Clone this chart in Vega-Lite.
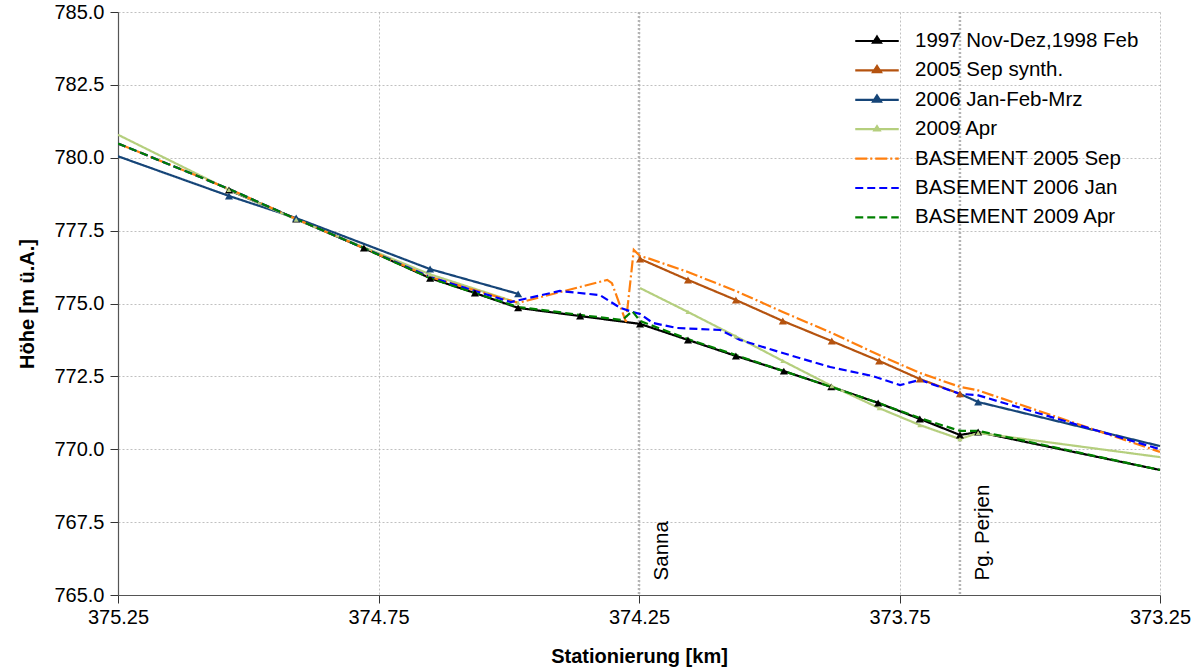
{
  "$schema": "https://vega.github.io/schema/vega-lite/v6.json",
  "width": 1042,
  "height": 583,
  "autosize": {"type": "none"},
  "padding": {"left": 118, "top": 12, "right": 36, "bottom": 72},
  "background": "white",
  "config": {
    "view": {"stroke": null},
    "font": "Liberation Sans",
    "axis": {
      "labelFont": "Liberation Sans",
      "labelFontSize": 20,
      "labelColor": "#000000",
      "titleFont": "Liberation Sans",
      "titleFontSize": 20,
      "titleFontWeight": "bold",
      "titleColor": "#000000",
      "domainColor": "#555555",
      "domainWidth": 1.2,
      "tickColor": "#333333",
      "tickSize": 8,
      "gridColor": "#b0b0b0",
      "gridDash": [2, 2],
      "gridWidth": 0.8
    }
  },
  "datasets": {
    "profiles": [
      {"s": "1997 Nov-Dez,1998 Feb", "g": "a", "x": 375.037, "y": 778.89, "m": 1},
      {"s": "1997 Nov-Dez,1998 Feb", "g": "a", "x": 374.908, "y": 777.90, "m": 1},
      {"s": "1997 Nov-Dez,1998 Feb", "g": "a", "x": 374.778, "y": 776.90, "m": 1},
      {"s": "1997 Nov-Dez,1998 Feb", "g": "a", "x": 374.651, "y": 775.87, "m": 1},
      {"s": "1997 Nov-Dez,1998 Feb", "g": "a", "x": 374.565, "y": 775.36, "m": 1},
      {"s": "1997 Nov-Dez,1998 Feb", "g": "a", "x": 374.482, "y": 774.85, "m": 1},
      {"s": "1997 Nov-Dez,1998 Feb", "g": "a", "x": 374.363, "y": 774.57, "m": 1},
      {"s": "1997 Nov-Dez,1998 Feb", "g": "a", "x": 374.248, "y": 774.30, "m": 1},
      {"s": "1997 Nov-Dez,1998 Feb", "g": "a", "x": 374.156, "y": 773.75, "m": 1},
      {"s": "1997 Nov-Dez,1998 Feb", "g": "a", "x": 374.064, "y": 773.20, "m": 1},
      {"s": "1997 Nov-Dez,1998 Feb", "g": "a", "x": 373.972, "y": 772.68, "m": 1},
      {"s": "1997 Nov-Dez,1998 Feb", "g": "a", "x": 373.881, "y": 772.14, "m": 1},
      {"s": "1997 Nov-Dez,1998 Feb", "g": "a", "x": 373.791, "y": 771.59, "m": 1},
      {"s": "1997 Nov-Dez,1998 Feb", "g": "a", "x": 373.711, "y": 771.04, "m": 1},
      {"s": "1997 Nov-Dez,1998 Feb", "g": "a", "x": 373.634, "y": 770.49, "m": 1},
      {"s": "1997 Nov-Dez,1998 Feb", "g": "a", "x": 373.599, "y": 770.59, "m": 1},
      {"s": "1997 Nov-Dez,1998 Feb", "g": "a", "x": 373.25, "y": 769.29, "m": 0},

      {"s": "2005 Sep synth.", "g": "a", "x": 374.248, "y": 776.53, "m": 1},
      {"s": "2005 Sep synth.", "g": "a", "x": 374.156, "y": 775.81, "m": 1},
      {"s": "2005 Sep synth.", "g": "a", "x": 374.064, "y": 775.12, "m": 1},
      {"s": "2005 Sep synth.", "g": "a", "x": 373.974, "y": 774.40, "m": 1},
      {"s": "2005 Sep synth.", "g": "a", "x": 373.880, "y": 773.71, "m": 1},
      {"s": "2005 Sep synth.", "g": "a", "x": 373.789, "y": 773.03, "m": 1},
      {"s": "2005 Sep synth.", "g": "a", "x": 373.711, "y": 772.41, "m": 1},
      {"s": "2005 Sep synth.", "g": "a", "x": 373.634, "y": 771.90, "m": 1},

      {"s": "2006 Jan-Feb-Mrz", "g": "a", "x": 375.25, "y": 780.05, "m": 0},
      {"s": "2006 Jan-Feb-Mrz", "g": "a", "x": 375.037, "y": 778.69, "m": 1},
      {"s": "2006 Jan-Feb-Mrz", "g": "a", "x": 374.908, "y": 777.93, "m": 1},
      {"s": "2006 Jan-Feb-Mrz", "g": "a", "x": 374.651, "y": 776.18, "m": 1},
      {"s": "2006 Jan-Feb-Mrz", "g": "a", "x": 374.482, "y": 775.33, "m": 1},
      {"s": "2006 Jan-Feb-Mrz", "g": "b", "x": 373.634, "y": 771.90, "m": 0},
      {"s": "2006 Jan-Feb-Mrz", "g": "b", "x": 373.599, "y": 771.62, "m": 1},
      {"s": "2006 Jan-Feb-Mrz", "g": "b", "x": 373.25, "y": 770.11, "m": 0},

      {"s": "2009 Apr", "g": "a", "x": 375.25, "y": 780.79, "m": 0},
      {"s": "2009 Apr", "g": "a", "x": 375.037, "y": 778.90, "m": 1},
      {"s": "2009 Apr", "g": "a", "x": 374.908, "y": 777.88, "m": 1},
      {"s": "2009 Apr", "g": "a", "x": 374.651, "y": 776.00, "m": 1},
      {"s": "2009 Apr", "g": "a", "x": 374.482, "y": 775.02, "m": 1},
      {"s": "2009 Apr", "g": "b", "x": 374.248, "y": 775.53, "m": 0},
      {"s": "2009 Apr", "g": "b", "x": 374.156, "y": 774.71, "m": 1},
      {"s": "2009 Apr", "g": "b", "x": 374.064, "y": 773.87, "m": 1},
      {"s": "2009 Apr", "g": "b", "x": 373.974, "y": 773.03, "m": 1},
      {"s": "2009 Apr", "g": "b", "x": 373.880, "y": 772.17, "m": 1},
      {"s": "2009 Apr", "g": "b", "x": 373.789, "y": 771.41, "m": 1},
      {"s": "2009 Apr", "g": "b", "x": 373.711, "y": 770.83, "m": 1},
      {"s": "2009 Apr", "g": "b", "x": 373.634, "y": 770.35, "m": 1},
      {"s": "2009 Apr", "g": "b", "x": 373.599, "y": 770.56, "m": 1},
      {"s": "2009 Apr", "g": "b", "x": 373.25, "y": 769.73, "m": 0},

      {"s": "BASEMENT 2005 Sep", "g": "a", "x": 375.25, "y": 780.49, "m": 0},
      {"s": "BASEMENT 2005 Sep", "g": "a", "x": 375.037, "y": 778.93, "m": 0},
      {"s": "BASEMENT 2005 Sep", "g": "a", "x": 374.908, "y": 777.90, "m": 0},
      {"s": "BASEMENT 2005 Sep", "g": "a", "x": 374.778, "y": 776.90, "m": 0},
      {"s": "BASEMENT 2005 Sep", "g": "a", "x": 374.651, "y": 775.91, "m": 0},
      {"s": "BASEMENT 2005 Sep", "g": "a", "x": 374.482, "y": 775.02, "m": 0},
      {"s": "BASEMENT 2005 Sep", "g": "a", "x": 374.402, "y": 775.39, "m": 0},
      {"s": "BASEMENT 2005 Sep", "g": "a", "x": 374.311, "y": 775.81, "m": 0},
      {"s": "BASEMENT 2005 Sep", "g": "a", "x": 374.302, "y": 775.70, "m": 0},
      {"s": "BASEMENT 2005 Sep", "g": "a", "x": 374.275, "y": 774.37, "m": 0},
      {"s": "BASEMENT 2005 Sep", "g": "a", "x": 374.260, "y": 776.84, "m": 0},
      {"s": "BASEMENT 2005 Sep", "g": "a", "x": 374.248, "y": 776.63, "m": 0},
      {"s": "BASEMENT 2005 Sep", "g": "a", "x": 374.229, "y": 776.53, "m": 0},
      {"s": "BASEMENT 2005 Sep", "g": "a", "x": 374.156, "y": 776.08, "m": 0},
      {"s": "BASEMENT 2005 Sep", "g": "a", "x": 374.064, "y": 775.43, "m": 0},
      {"s": "BASEMENT 2005 Sep", "g": "a", "x": 373.974, "y": 774.71, "m": 0},
      {"s": "BASEMENT 2005 Sep", "g": "a", "x": 373.880, "y": 773.99, "m": 0},
      {"s": "BASEMENT 2005 Sep", "g": "a", "x": 373.789, "y": 773.23, "m": 0},
      {"s": "BASEMENT 2005 Sep", "g": "a", "x": 373.711, "y": 772.62, "m": 0},
      {"s": "BASEMENT 2005 Sep", "g": "a", "x": 373.634, "y": 772.14, "m": 0},
      {"s": "BASEMENT 2005 Sep", "g": "a", "x": 373.601, "y": 772.03, "m": 0},
      {"s": "BASEMENT 2005 Sep", "g": "a", "x": 373.25, "y": 769.91, "m": 0},

      {"s": "BASEMENT 2006 Jan", "g": "a", "x": 375.25, "y": 780.49, "m": 0},
      {"s": "BASEMENT 2006 Jan", "g": "a", "x": 375.037, "y": 778.93, "m": 0},
      {"s": "BASEMENT 2006 Jan", "g": "a", "x": 374.908, "y": 777.90, "m": 0},
      {"s": "BASEMENT 2006 Jan", "g": "a", "x": 374.778, "y": 776.90, "m": 0},
      {"s": "BASEMENT 2006 Jan", "g": "a", "x": 374.651, "y": 775.91, "m": 0},
      {"s": "BASEMENT 2006 Jan", "g": "a", "x": 374.496, "y": 775.05, "m": 0},
      {"s": "BASEMENT 2006 Jan", "g": "a", "x": 374.402, "y": 775.43, "m": 0},
      {"s": "BASEMENT 2006 Jan", "g": "a", "x": 374.325, "y": 775.29, "m": 0},
      {"s": "BASEMENT 2006 Jan", "g": "a", "x": 374.286, "y": 774.85, "m": 0},
      {"s": "BASEMENT 2006 Jan", "g": "a", "x": 374.263, "y": 774.71, "m": 0},
      {"s": "BASEMENT 2006 Jan", "g": "a", "x": 374.248, "y": 774.64, "m": 0},
      {"s": "BASEMENT 2006 Jan", "g": "a", "x": 374.223, "y": 774.33, "m": 0},
      {"s": "BASEMENT 2006 Jan", "g": "a", "x": 374.177, "y": 774.16, "m": 0},
      {"s": "BASEMENT 2006 Jan", "g": "a", "x": 374.094, "y": 774.09, "m": 0},
      {"s": "BASEMENT 2006 Jan", "g": "a", "x": 374.056, "y": 773.75, "m": 0},
      {"s": "BASEMENT 2006 Jan", "g": "a", "x": 373.974, "y": 773.30, "m": 0},
      {"s": "BASEMENT 2006 Jan", "g": "a", "x": 373.883, "y": 772.82, "m": 0},
      {"s": "BASEMENT 2006 Jan", "g": "a", "x": 373.801, "y": 772.51, "m": 0},
      {"s": "BASEMENT 2006 Jan", "g": "a", "x": 373.749, "y": 772.20, "m": 0},
      {"s": "BASEMENT 2006 Jan", "g": "a", "x": 373.711, "y": 772.38, "m": 0},
      {"s": "BASEMENT 2006 Jan", "g": "a", "x": 373.634, "y": 771.90, "m": 0},
      {"s": "BASEMENT 2006 Jan", "g": "a", "x": 373.601, "y": 771.86, "m": 0},
      {"s": "BASEMENT 2006 Jan", "g": "a", "x": 373.25, "y": 770.00, "m": 0},

      {"s": "BASEMENT 2009 Apr", "g": "a", "x": 375.25, "y": 780.49, "m": 0},
      {"s": "BASEMENT 2009 Apr", "g": "a", "x": 375.037, "y": 778.93, "m": 0},
      {"s": "BASEMENT 2009 Apr", "g": "a", "x": 374.908, "y": 777.90, "m": 0},
      {"s": "BASEMENT 2009 Apr", "g": "a", "x": 374.778, "y": 776.90, "m": 0},
      {"s": "BASEMENT 2009 Apr", "g": "a", "x": 374.651, "y": 775.87, "m": 0},
      {"s": "BASEMENT 2009 Apr", "g": "a", "x": 374.565, "y": 775.36, "m": 0},
      {"s": "BASEMENT 2009 Apr", "g": "a", "x": 374.482, "y": 774.88, "m": 0},
      {"s": "BASEMENT 2009 Apr", "g": "a", "x": 374.363, "y": 774.61, "m": 0},
      {"s": "BASEMENT 2009 Apr", "g": "a", "x": 374.282, "y": 774.43, "m": 0},
      {"s": "BASEMENT 2009 Apr", "g": "a", "x": 374.263, "y": 774.74, "m": 0},
      {"s": "BASEMENT 2009 Apr", "g": "a", "x": 374.248, "y": 774.40, "m": 0},
      {"s": "BASEMENT 2009 Apr", "g": "a", "x": 374.156, "y": 773.78, "m": 0},
      {"s": "BASEMENT 2009 Apr", "g": "a", "x": 374.064, "y": 773.23, "m": 0},
      {"s": "BASEMENT 2009 Apr", "g": "a", "x": 373.972, "y": 772.68, "m": 0},
      {"s": "BASEMENT 2009 Apr", "g": "a", "x": 373.881, "y": 772.14, "m": 0},
      {"s": "BASEMENT 2009 Apr", "g": "a", "x": 373.791, "y": 771.59, "m": 0},
      {"s": "BASEMENT 2009 Apr", "g": "a", "x": 373.711, "y": 771.07, "m": 0},
      {"s": "BASEMENT 2009 Apr", "g": "a", "x": 373.634, "y": 770.63, "m": 0},
      {"s": "BASEMENT 2009 Apr", "g": "a", "x": 373.599, "y": 770.63, "m": 0},
      {"s": "BASEMENT 2009 Apr", "g": "a", "x": 373.25, "y": 769.29, "m": 0}
    ],
    "places": [
      {"name": "Sanna", "x": 374.25, "y": 765.5},
      {"name": "Pg. Perjen", "x": 373.634, "y": 765.5}
    ]
  },
  "encoding": {
    "x": {
      "field": "x", "type": "quantitative",
      "scale": {"domain": [373.25, 375.25], "reverse": true, "nice": false, "zero": false},
      "axis": {"title": "Stationierung [km]", "values": [375.25, 374.75, 374.25, 373.75, 373.25], "format": ".2f", "labelPadding": 4, "titlePadding": 19, "labelFlush": false}
    },
    "y": {
      "field": "y", "type": "quantitative",
      "scale": {"domain": [765, 785], "nice": false, "zero": false},
      "axis": {"title": "Höhe [m ü.A.]", "values": [765, 767.5, 770, 772.5, 775, 777.5, 780, 782.5, 785], "format": ".1f", "labelPadding": 6, "titlePadding": 16}
    }
  },
  "layer": [
    {
      "data": {"name": "places"},
      "mark": {"type": "rule", "color": "#b4b4b4", "strokeWidth": 2.5, "strokeDash": [2, 2]},
      "encoding": {"x": {"field": "x", "type": "quantitative"}, "y": null}
    },
    {
      "data": {"name": "places"},
      "mark": {"type": "text", "angle": 270, "align": "left", "baseline": "top", "dy": 13, "fontSize": 20.5, "font": "Liberation Sans", "color": "#000000"},
      "encoding": {"text": {"field": "name"}}
    },
    {
      "data": {"name": "profiles"},
      "mark": {"type": "line", "strokeWidth": 2.2, "clip": true},
      "encoding": {
        "detail": {"field": "g"},
        "color": {
          "field": "s", "type": "nominal",
          "scale": {
            "domain": ["1997 Nov-Dez,1998 Feb", "2005 Sep synth.", "2006 Jan-Feb-Mrz", "2009 Apr", "BASEMENT 2005 Sep", "BASEMENT 2006 Jan", "BASEMENT 2009 Apr"],
            "range": ["#000000", "#b5530f", "#164578", "#b5cf7e", "#ff7f0e", "#0000ff", "#008000"]
          },
          "legend": {
            "title": null,
            "orient": "none",
            "legendX": 743,
            "legendY": 13,
            "labelFont": "Liberation Sans",
            "labelFontSize": 20.5,
            "labelColor": "#000000",
            "labelOffset": 22,
            "symbolSize": 841,
            "symbolStrokeWidth": 2.2,
            "rowPadding": 2.4,
            "padding": 0,
            "labelLimit": 400,
            "encode": {
              "symbols": {
                "update": {
                  "shape": {"signal": "indexof(['1997 Nov-Dez,1998 Feb','2005 Sep synth.','2006 Jan-Feb-Mrz'], datum.value) >= 0 ? 'M-1.5,0H1.5M0,-0.3L0.27,0.12L-0.27,0.12Z' : (datum.value == '2009 Apr' ? 'M-1.5,0H1.5M0,-0.2L0.18,0.08L-0.18,0.08Z' : 'M-1.5,0H1.5')"},
                  "fill": {"signal": "indexof(['1997 Nov-Dez,1998 Feb','2005 Sep synth.','2006 Jan-Feb-Mrz','2009 Apr'], datum.value) >= 0 ? scale('color', datum.value) : 'transparent'"},
                  "opacity": {"value": 1}
                }
              }
            }
          }
        },
        "strokeDash": {
          "field": "s", "type": "nominal",
          "scale": {
            "domain": ["1997 Nov-Dez,1998 Feb", "2005 Sep synth.", "2006 Jan-Feb-Mrz", "2009 Apr", "BASEMENT 2005 Sep", "BASEMENT 2006 Jan", "BASEMENT 2009 Apr"],
            "range": [[1, 0], [1, 0], [1, 0], [1, 0], [12, 3, 2, 3], [8, 4], [8, 4]]
          },
          "legend": {"title": null}
        }
      }
    },
    {
      "data": {"name": "profiles"},
      "transform": [{"filter": "datum.m == 1 && datum.s != '2009 Apr'"}],
      "mark": {"type": "point", "shape": "triangle-up", "filled": true, "size": 65, "opacity": 1},
      "encoding": {"color": {"field": "s", "type": "nominal"}}
    },
    {
      "data": {"name": "profiles"},
      "transform": [{"filter": "datum.m == 1 && datum.s == '2009 Apr'"}],
      "mark": {"type": "point", "shape": "triangle-up", "filled": true, "size": 25, "opacity": 1},
      "encoding": {"color": {"field": "s", "type": "nominal"}}
    }
  ]
}
